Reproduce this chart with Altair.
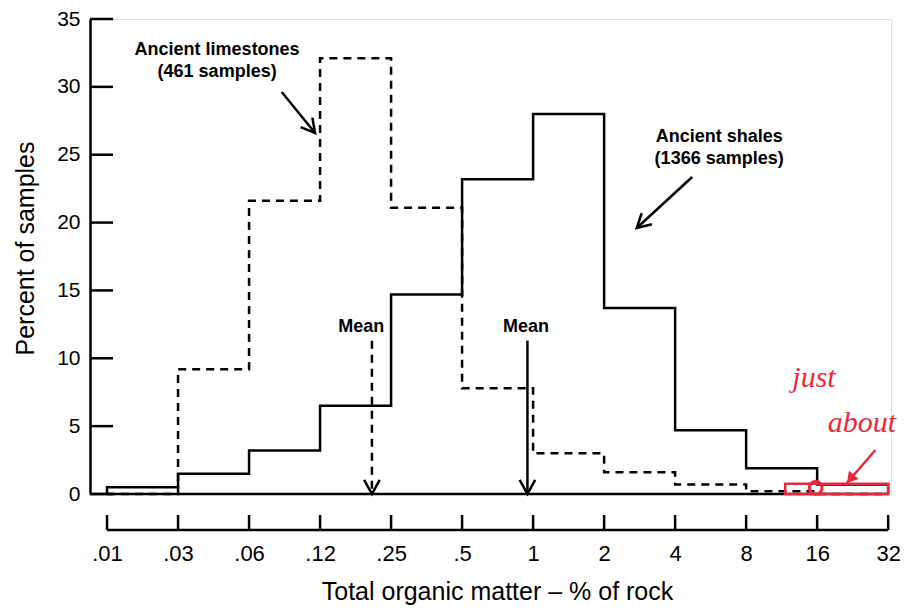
import json
import altair as alt
import pandas as pd

# ---------------- data ----------------
tick_labels = [".01", ".03", ".06", ".12", ".25", ".5", "1", "2", "4", "8", "16", "32"]
# percent of samples per bin (bins lie between consecutive tick labels)
shales = [0.5, 1.5, 3.2, 6.5, 14.7, 23.2, 28.0, 13.7, 4.7, 1.9, 0.7]
limestones = [0.0, 9.2, 21.6, 32.1, 21.1, 7.8, 3.0, 1.6, 0.7, 0.2, 0.0]
y_ticks = [0, 5, 10, 15, 20, 25, 30, 35]
# mean positions (in tick-index units) : limestones, shales
mean_series = ["limestones", "shales"]
mean_pos = [3.73, 5.92]
mean_top = 11.3

ann_text = ["Ancient limestones", "(461 samples)", "Ancient shales", "(1366 samples)", "Mean", "Mean"]
ann_x = [1.55, 1.55, 8.62, 8.62, 3.58, 5.90]
ann_y = [32.75, 31.06, 26.27, 24.65, 12.3, 12.3]

arrow_x = [2.46, 8.24]
arrow_y = [29.62, 23.36]
arrow_x2 = [2.93, 7.46]
arrow_y2 = [26.60, 19.60]
arrow_angle = [321, 47]

red_text = ["just", "about"]
red_x = [9.65, 10.15]
red_y = [7.9, 4.6]

FONT = "Liberation Sans"
RED = "#e8293b"
XMIN, XMAX = -0.24, 11.04
W, H = 801, 475
SW = 2.5


def steps(vals):
    xs, ys = [0], [0.0]
    for i, v in enumerate(vals):
        xs += [i, i + 1]
        ys += [v, v]
    xs.append(len(vals))
    ys.append(0.0)
    return pd.DataFrame({"x": xs, "y": ys, "o": range(len(xs))})


xscale = alt.Scale(domain=[XMIN, XMAX], nice=False, zero=False)
yscale = alt.Scale(domain=[0, 35], nice=False, zero=False)

xaxis = alt.Axis(
    values=list(range(len(tick_labels))),
    labelExpr=json.dumps(tick_labels) + "[round(datum.value)]",
    domain=False, ticks=False, tickSize=0, grid=False,
    labelFont=FONT, labelFontSize=22, labelColor="black", labelPadding=13,
    labelFlush=False, labelOverlap=False, offset=36,
    title="Total organic matter – % of rock", titleFont=FONT, titleFontSize=25,
    titleFontWeight="normal", titleColor="black", titleX=407, titleY=69,
    titleAlign="center", titleBaseline="alphabetic",
)
yaxis = alt.Axis(
    values=y_ticks, domain=True, domainColor="black", domainWidth=SW,
    ticks=False, tickSize=0, grid=False,
    labelFont=FONT, labelFontSize=21, labelColor="black", labelPadding=10,
    title="Percent of samples", titleFont=FONT, titleFontSize=25,
    titleFontWeight="normal", titleColor="black", titleX=-57, titleY=229,
    titleAlign="center", titleBaseline="alphabetic",
)


def X(f="x"):
    return alt.X(f, type="quantitative", scale=xscale, axis=xaxis)


def Y(f="y"):
    return alt.Y(f, type="quantitative", scale=yscale, axis=yaxis)


n = len(tick_labels) - 1

shale_line = alt.Chart(steps(shales)).mark_line(color="black", strokeWidth=SW).encode(
    x=X(), y=Y(), order="o:Q")
lime_line = alt.Chart(steps(limestones)).mark_line(
    color="black", strokeWidth=SW, strokeDash=[8, 6]).encode(x=X(), y=Y(), order="o:Q")

baseline = alt.Chart(pd.DataFrame({"x": [XMIN], "x2": [n], "y": [0]})).mark_rule(
    color="black", strokeWidth=SW).encode(x=X(), x2="x2:Q", y=Y())

ytick_rules = alt.Chart(pd.DataFrame({"y": y_ticks})).mark_rule(
    color="black", strokeWidth=SW).encode(y=Y(), x=alt.value(0), x2=alt.value(23))

xaxis_line = alt.Chart(pd.DataFrame({"x": [0], "x2": [n]})).mark_rule(
    color="black", strokeWidth=SW).encode(x=X(), x2="x2:Q", y=alt.value(511))
xtick_rules = alt.Chart(pd.DataFrame({"x": list(range(n + 1))})).mark_rule(
    color="black", strokeWidth=SW).encode(x=X(), y=alt.value(496), y2=alt.value(511))

means = pd.DataFrame({"s": mean_series, "x": mean_pos, "y": [mean_top] * 2, "y2": [0, 0]})
mean_lime = alt.Chart(means[means.s == "limestones"]).mark_rule(
    color="black", strokeWidth=SW, strokeDash=[8, 6]).encode(x=X(), y=Y(), y2="y2:Q")
mean_shale = alt.Chart(means[means.s == "shales"]).mark_rule(
    color="black", strokeWidth=SW).encode(x=X(), y=Y(), y2="y2:Q")

VHEAD = "M-0.55,-1L0,0L0.55,-1"
mean_heads = alt.Chart(means).mark_point(
    shape=VHEAD, size=800, filled=False, color="black", strokeWidth=SW, opacity=1
).encode(x=X(), y=alt.Y("y2:Q", scale=yscale, axis=yaxis))

arrows = pd.DataFrame({"x": arrow_x, "y": arrow_y, "x2": arrow_x2, "y2": arrow_y2, "a": arrow_angle})
arrow_lines = alt.Chart(arrows).mark_rule(color="black", strokeWidth=SW).encode(
    x=X(), y=Y(), x2="x2:Q", y2="y2:Q")
arrow_heads = alt.Chart(arrows).mark_point(
    shape=VHEAD, size=750, filled=False, color="black", strokeWidth=SW, opacity=1
).encode(x=X("x2"), y=Y("y2"), angle=alt.Angle("a:Q", scale=None))

ann = pd.DataFrame({"t": ann_text, "x": ann_x, "y": ann_y})
ann_layer = alt.Chart(ann).mark_text(
    font=FONT, fontSize=18, fontWeight="bold", color="black", align="center", baseline="middle"
).encode(x=X(), y=Y(), text="t:N")

# red hand-written note
red_box = alt.Chart(pd.DataFrame({"x": [9.55], "x2": [n], "y": [0.75], "y2": [0]})).mark_rect(
    fill=None, fillOpacity=0, stroke=RED, strokeWidth=2.5).encode(x=X(), x2="x2:Q", y=Y(), y2="y2:Q")
red_scribble = alt.Chart(pd.DataFrame({"x": [9.98], "y": [0.45]})).mark_point(
    shape="circle", size=160, filled=False, color=RED, strokeWidth=3, opacity=1).encode(x=X(), y=Y())
red_arrow = alt.Chart(pd.DataFrame({"x": [10.82], "y": [3.24], "x2": [10.42], "y2": [0.81]})).mark_rule(
    color=RED, strokeWidth=2.5).encode(x=X(), y=Y(), x2="x2:Q", y2="y2:Q")
red_head = alt.Chart(pd.DataFrame({"x": [10.42], "y": [0.81], "a": [40]})).mark_point(
    shape="M-0.6,-1L0,0L0.6,-1Z", size=450, filled=True, color=RED, opacity=1).encode(
    x=X(), y=Y(), angle=alt.Angle("a:Q", scale=None))
red_note = alt.Chart(pd.DataFrame({"t": red_text, "x": red_x, "y": red_y})).mark_text(
    font="Liberation Serif", fontStyle="italic", fontSize=30, color=RED, align="left",
    baseline="alphabetic").encode(x=X(), y=Y(), text="t:N")

chart = alt.layer(
    baseline, ytick_rules, xaxis_line, xtick_rules,
    lime_line, shale_line, mean_lime, mean_shale, mean_heads,
    arrow_lines, arrow_heads, ann_layer,
    red_box, red_scribble, red_arrow, red_head, red_note,
).properties(
    width=W, height=H,
    autosize=alt.AutoSizeParams(type="none"),
    padding={"left": 82, "top": 11, "right": 9, "bottom": 113},
).configure_view(stroke=None).configure(background="white")

chart.save("out.html", embed_options={"renderer": "svg", "actions": False})
